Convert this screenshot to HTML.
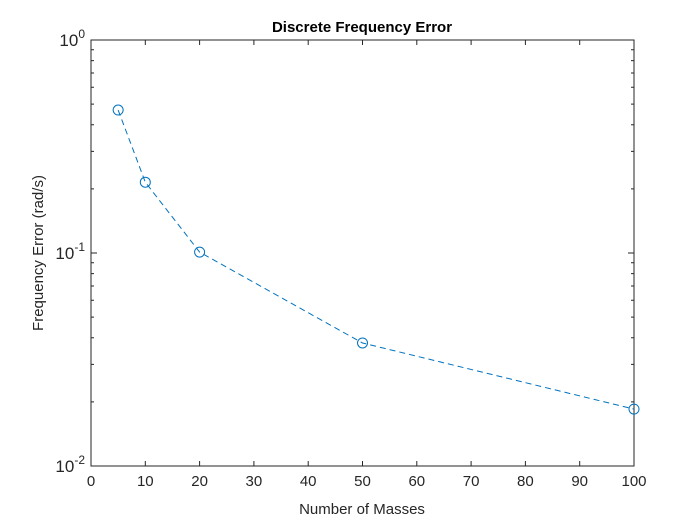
<!DOCTYPE html>
<html><head><meta charset="utf-8"><style>
body{margin:0;background:#fff;}
svg{display:block;font-family:"Liberation Sans",Arial,sans-serif;}
</style></head><body>
<svg id="chart" width="700" height="525" viewBox="0 0 700 525">
<rect width="700" height="525" fill="#fff"/>
<g id="axes"></g>
<g id="series"></g>
<text x="362" y="32" text-anchor="middle" font-size="15" font-weight="bold" fill="#000">Discrete Frequency Error</text>
<text x="362" y="514" text-anchor="middle" font-size="15" fill="#262626">Number of Masses</text>
<text transform="translate(43,253) rotate(-90)" text-anchor="middle" font-size="15" fill="#262626">Frequency Error (rad/s)</text>
</svg>
<script>
const xValues = [5, 10, 20, 50, 100];
const yValues = [0.469, 0.215, 0.101, 0.0378, 0.0185];
const xTicks = [0,10,20,30,40,50,60,70,80,90,100];
const yDecades = [-2,-1,0];

const L=91,R=634,T=40,B=466;
const xs=v=>L+(v-0)/(100-0)*(R-L);
const ys=v=>B-(Math.log10(v)-(-2))/2*(B-T);
const NS='http://www.w3.org/2000/svg';
const ax=document.getElementById('axes'), se=document.getElementById('series');
function mk(tag,attrs,parent){const e=document.createElementNS(NS,tag);for(const k in attrs)e.setAttribute(k,attrs[k]);parent.appendChild(e);return e;}

const box=mk('rect',{x:L,y:T,width:R-L,height:B-T,fill:'none',stroke:'#262626','stroke-width':1},ax);



xTicks.forEach(t=>{
  const x=xs(t);
  mk('line',{x1:x,y1:B,x2:x,y2:B-5,stroke:'#262626'},ax);
  mk('line',{x1:x,y1:T,x2:x,y2:T+5,stroke:'#262626'},ax);
  const tx=mk('text',{x:x,y:B+20,'text-anchor':'middle','font-size':15,fill:'#262626'},ax);
  tx.textContent=t;
  
  
});

yDecades.forEach(d=>{
  const y=ys(Math.pow(10,d));
  mk('line',{x1:L,y1:y,x2:L+6,y2:y,stroke:'#262626'},ax);
  mk('line',{x1:R,y1:y,x2:R-6,y2:y,stroke:'#262626'},ax);
  const tx=mk('text',{x:L-6,y:y+6,'text-anchor':'end','font-size':17,fill:'#262626'},ax);
  
  
  const a=document.createElementNS(NS,'tspan');a.textContent='10';tx.appendChild(a);
  const b=document.createElementNS(NS,'tspan');b.textContent=String(d);b.setAttribute('dy','-8');b.setAttribute('font-size','12');tx.appendChild(b);
  if(d<0){for(let m=2;m<=9;m++){const yy=ys(m*Math.pow(10,d));
    mk('line',{x1:L,y1:yy,x2:L+3,y2:yy,stroke:'#262626'},ax);
    mk('line',{x1:R,y1:yy,x2:R-3,y2:yy,stroke:'#262626'},ax);}}
});

const pts=xValues.map((v,i)=>xs(v)+','+ys(yValues[i])).join(' ');
const line=mk('polyline',{points:pts,fill:'none',stroke:'#0072BD','stroke-width':1,'stroke-dasharray':'6,4'},se);


xValues.forEach((v,i)=>{
  const c=mk('circle',{cx:xs(v),cy:ys(yValues[i]),r:5,fill:'none',stroke:'#0072BD','stroke-width':1},se);
  
  
});
</script>
</body></html>
